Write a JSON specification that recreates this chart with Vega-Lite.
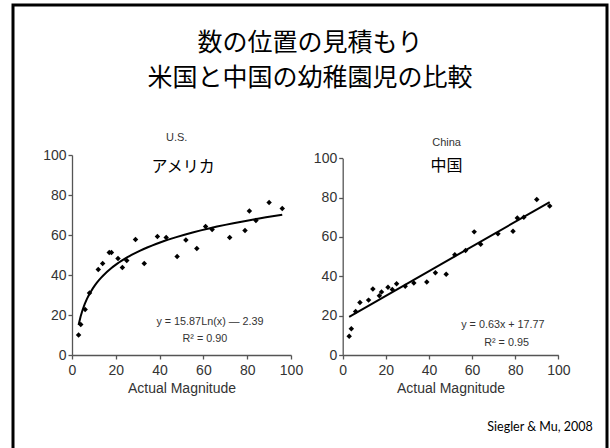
{
  "$schema": "https://vega.github.io/schema/vega-lite/v6.json",
  "width": 594,
  "height": 446,
  "autosize": {"type": "none"},
  "padding": {"left": 13, "top": 5, "right": 3, "bottom": -3},
  "background": "white",
  "config": {
    "view": {"stroke": "black", "strokeWidth": 3},
    "axis": {
      "grid": false,
      "domainColor": "#555555",
      "domainWidth": 1.3,
      "tickColor": "#555555",
      "tickWidth": 1.3,
      "tickSize": 4,
      "labelFont": "Liberation Sans",
      "labelFontSize": 14,
      "labelColor": "#333333",
      "titleFont": "Liberation Sans",
      "titleFontSize": 14,
      "titleFontWeight": "normal",
      "titleColor": "#333333"
    }
  },
  "title": {
    "text": ["数の位置の見積もり", "米国と中国の幼稚園児の比較"],
    "font": "Noto Sans CJK JP",
    "fontSize": 25,
    "fontWeight": "normal",
    "color": "black",
    "lineHeight": 35,
    "anchor": "middle",
    "frame": "group",
    "baseline": "top",
    "offset": -86
  },
  "datasets": {
    "us": [
      {"x": 3, "y": 10}, {"x": 4, "y": 15.3}, {"x": 6, "y": 22.7}, {"x": 8, "y": 31},
      {"x": 12, "y": 42.8}, {"x": 14, "y": 45.8}, {"x": 17, "y": 51.2}, {"x": 18, "y": 51.3},
      {"x": 21, "y": 48.2}, {"x": 23, "y": 43.8}, {"x": 25, "y": 47.3}, {"x": 29, "y": 57.8},
      {"x": 33, "y": 45.7}, {"x": 39, "y": 59.3}, {"x": 43, "y": 58.7}, {"x": 48, "y": 49.2},
      {"x": 52, "y": 57.5}, {"x": 57, "y": 53.3}, {"x": 61, "y": 64.2}, {"x": 64, "y": 62.8},
      {"x": 72, "y": 58.8}, {"x": 79, "y": 62.3}, {"x": 81, "y": 72}, {"x": 84, "y": 67.2},
      {"x": 90, "y": 76.2}, {"x": 96, "y": 73.3}
    ],
    "cn": [
      {"x": 3, "y": 9.5}, {"x": 4, "y": 13.3}, {"x": 6, "y": 22.1}, {"x": 8, "y": 26.7},
      {"x": 12, "y": 27.9}, {"x": 14, "y": 33.5}, {"x": 17, "y": 30.1}, {"x": 18, "y": 32},
      {"x": 21, "y": 34.4}, {"x": 23, "y": 33.3}, {"x": 25, "y": 36.2}, {"x": 29, "y": 35},
      {"x": 33, "y": 36.6}, {"x": 39, "y": 37.1}, {"x": 43, "y": 41.8}, {"x": 48, "y": 41},
      {"x": 52, "y": 51}, {"x": 57, "y": 53.1}, {"x": 61, "y": 62.6}, {"x": 64, "y": 56.3},
      {"x": 72, "y": 61.6}, {"x": 79, "y": 62.9}, {"x": 81, "y": 69.7}, {"x": 84, "y": 70},
      {"x": 90, "y": 79.1}, {"x": 96, "y": 75.7}
    ],
    "usLabels": [
      {"x": 47.8, "y": 108.5, "label": "U.S.", "kind": "en"},
      {"x": 50.7, "y": 94, "label": "アメリカ", "kind": "jp"},
      {"x": 63, "y": 16.5, "label": "y = 15.87Ln(x) — 2.39", "kind": "eq"},
      {"x": 60.7, "y": 8, "label": "R² = 0.90", "kind": "eq"}
    ],
    "cnLabels": [
      {"x": 48.2, "y": 107.6, "label": "China", "kind": "en"},
      {"x": 48.2, "y": 96, "label": "中国", "kind": "jp"},
      {"x": 74.3, "y": 15.2, "label": "y = 0.63x + 17.77", "kind": "eq"},
      {"x": 76, "y": 6.1, "label": "R² = 0.95", "kind": "eq"}
    ],
    "credit": [
      {"x": 116, "y": -36.5, "label": "Siegler & Mu, 2008"}
    ]
  },
  "layer": [
    {
      "encoding": {
        "x": {"field": "x", "type": "quantitative",
              "scale": {"domain": [0, 100], "range": [59, 278], "nice": false, "zero": false},
              "axis": {"orient": "bottom", "offset": -96, "values": [0, 20, 40, 60, 80, 100], "title": "Actual Magnitude", "labelPadding": 4, "titlePadding": 4, "labelFlush": false, "labelOverlap": false}},
        "y": {"field": "y", "type": "quantitative",
              "scale": {"domain": [0, 100], "range": [350, 150], "nice": false, "zero": false},
              "axis": {"orient": "left", "offset": -59, "values": [0, 20, 40, 60, 80, 100], "title": null, "labelPadding": 2, "labelFlush": false, "labelOverlap": false}}
      },
      "layer": [
        {"data": {"name": "us"},
         "mark": {"type": "point", "shape": "diamond", "filled": true, "size": 30, "color": "black", "opacity": 1}},
        {"data": {"name": "us"},
         "transform": [{"regression": "y", "on": "x", "method": "log", "extent": [3, 96]}],
         "mark": {"type": "line", "color": "black", "strokeWidth": 2}},
        {"data": {"name": "usLabels"},
         "transform": [{"filter": "datum.kind === 'en'"}],
         "mark": {"type": "text", "font": "Liberation Sans", "fontSize": 11, "color": "#333333"},
         "encoding": {"text": {"field": "label"}}},
        {"data": {"name": "usLabels"},
         "transform": [{"filter": "datum.kind === 'jp'"}],
         "mark": {"type": "text", "font": "Noto Sans CJK JP", "fontSize": 16, "color": "black"},
         "encoding": {"text": {"field": "label"}}},
        {"data": {"name": "usLabels"},
         "transform": [{"filter": "datum.kind === 'eq'"}],
         "mark": {"type": "text", "font": "Liberation Sans", "fontSize": 10.8, "color": "#333333"},
         "encoding": {"text": {"field": "label"}}}
      ]
    },
    {
      "encoding": {
        "x": {"field": "x", "type": "quantitative",
              "scale": {"domain": [0, 100], "range": [329.7, 545.3], "nice": false, "zero": false},
              "axis": {"orient": "bottom", "offset": -96, "values": [0, 20, 40, 60, 80, 100], "title": "Actual Magnitude", "labelPadding": 4, "titlePadding": 4, "labelFlush": false, "labelOverlap": false}},
        "y": {"field": "y", "type": "quantitative",
              "scale": {"domain": [0, 100], "range": [350, 153.3], "nice": false, "zero": false},
              "axis": {"orient": "left", "offset": -329.7, "values": [0, 20, 40, 60, 80, 100], "title": null, "labelPadding": 2, "labelFlush": false, "labelOverlap": false}}
      },
      "layer": [
        {"data": {"name": "cn"},
         "mark": {"type": "point", "shape": "diamond", "filled": true, "size": 30, "color": "black", "opacity": 1}},
        {"data": {"name": "cn"},
         "transform": [{"regression": "y", "on": "x", "method": "linear", "extent": [3, 96]}],
         "mark": {"type": "line", "color": "black", "strokeWidth": 2}},
        {"data": {"name": "cnLabels"},
         "transform": [{"filter": "datum.kind === 'en'"}],
         "mark": {"type": "text", "font": "Liberation Sans", "fontSize": 11, "color": "#333333"},
         "encoding": {"text": {"field": "label"}}},
        {"data": {"name": "cnLabels"},
         "transform": [{"filter": "datum.kind === 'jp'"}],
         "mark": {"type": "text", "font": "Noto Sans CJK JP", "fontSize": 16, "color": "black"},
         "encoding": {"text": {"field": "label"}}},
        {"data": {"name": "cnLabels"},
         "transform": [{"filter": "datum.kind === 'eq'"}],
         "mark": {"type": "text", "font": "Liberation Sans", "fontSize": 10.8, "color": "#333333"},
         "encoding": {"text": {"field": "label"}}},
        {"data": {"name": "credit"},
         "mark": {"type": "text", "font": "Lato", "fontSize": 12.5, "color": "black", "align": "right"},
         "encoding": {"text": {"field": "label"}}}
      ]
    }
  ],
  "resolve": {
    "scale": {"x": "independent", "y": "independent"},
    "axis": {"x": "independent", "y": "independent"}
  }
}
